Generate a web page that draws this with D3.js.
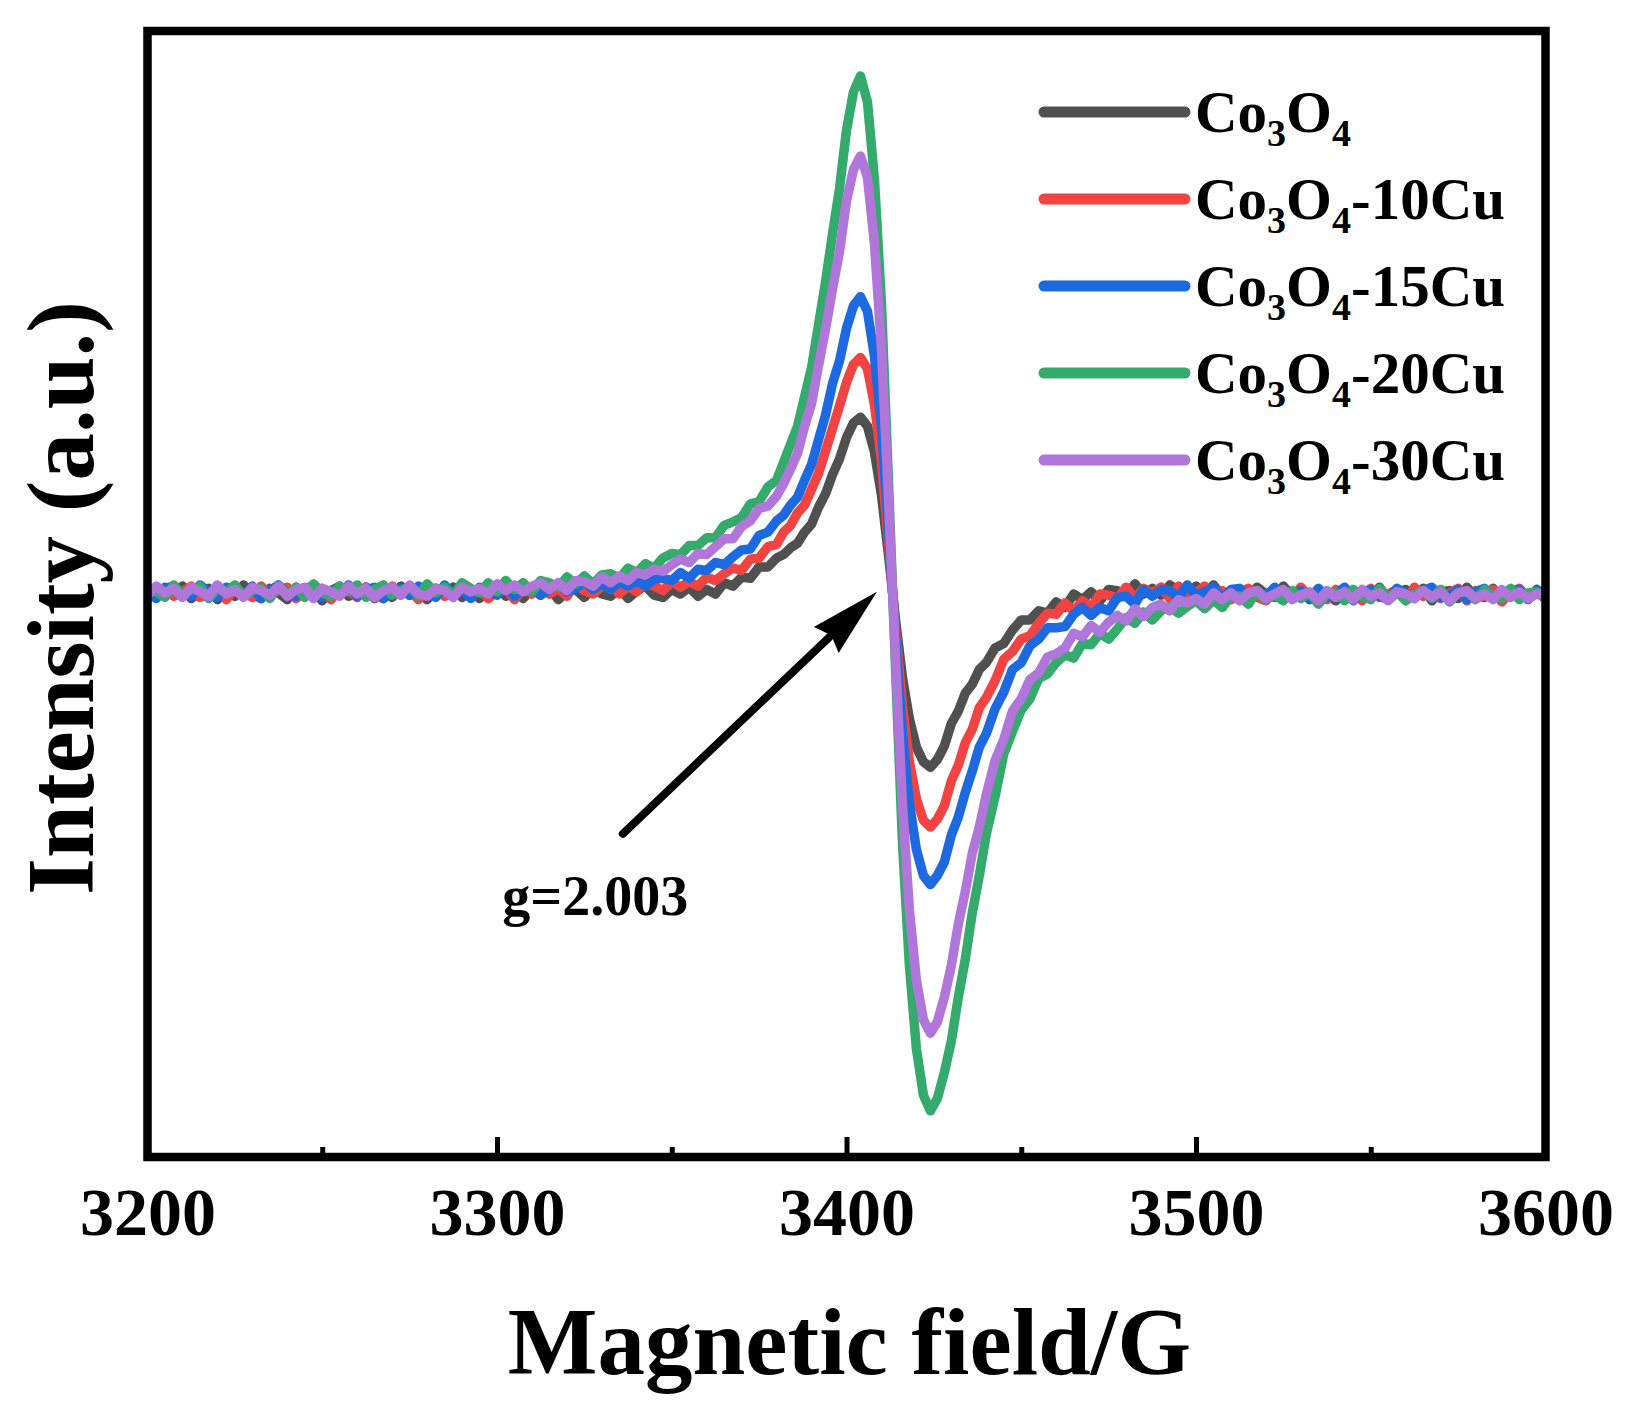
<!DOCTYPE html>
<html><head><meta charset="utf-8">
<script src="https://cdn.jsdelivr.net/npm/d3@7"></script>
<style>
body{margin:0;background:#fff}
svg text{font-family:"Liberation Serif","Times New Roman",serif;font-weight:bold;fill:#000}
</style>
</head><body>
<svg id="chart" width="1634" height="1407"></svg>
<script>
// Magnetic field (G)
const field = [
 3200,3202.5,3205,3207.5,3210,3212.5,3215,3217.5,3220,3222.5,3225,3227.5,3230,3232.5,3235,3237.5,3240,3242.5,3245,3247.5,
 3250,3252.5,3255,3257.5,3260,3262.5,3265,3267.5,3270,3272.5,3275,3277.5,3280,3282.5,3285,3287.5,3290,3292.5,3295,3297.5,
 3300,3302.5,3305,3307.5,3310,3312.5,3315,3317.5,3320,3322.5,3325,3327.5,3330,3332.5,3335,3337.5,3340,3342.5,3345,3347.5,
 3350,3352.5,3355,3357.5,3360,3362.5,3365,3367.5,3370,3372.5,3375,3377.5,3380,
 3382,3384,3386,3388,3390,3392,3394,3396,3398,3400,3402,3404,3406,3408,3410,3412,3414,3416,3418,3420,
 3422,3424,3426,3428,3430,3432,3434,3436,3438,3440,
 3442.5,3445,3447.5,3450,3452.5,3455,3457.5,3460,3462.5,3465,3467.5,3470,3472.5,3475,3477.5,3480,3482.5,3485,3487.5,3490,
 3492.5,3495,3497.5,3500,3502.5,3505,3507.5,3510,3512.5,3515,3517.5,3520,3522.5,3525,3527.5,3530,3532.5,3535,3537.5,3540,
 3542.5,3545,3547.5,3550,3552.5,3555,3557.5,3560,3562.5,3565,3567.5,3570,3572.5,3575,3577.5,3580,3582.5,3585,3587.5,3590,
 3592.5,3595,3597.5,3600
];
const seriesNames = ["Co3O4","Co3O4-10Cu","Co3O4-15Cu","Co3O4-20Cu","Co3O4-30Cu"];
const seriesColors = ["#505050","#f24343","#1d6ae0","#34aa6c","#b076da"];
// Intensity (a.u.)
const co3o4 = [
 0.04,-0.03,0.06,-0.01,0.07,-0.04,0.02,0.05,-0.05,0.03,-0.02,0.08,0.00,-0.04,0.05,0.01,-0.05,0.06,-0.01,0.04,
 -0.06,0.03,0.07,-0.02,0.00,0.06,-0.04,0.04,-0.03,0.07,-0.01,0.02,-0.05,0.05,0.00,0.06,-0.03,0.03,-0.04,0.04,
 0.07,-0.02,0.01,-0.04,0.05,-0.01,0.06,-0.05,0.02,0.04,-0.03,0.06,0.00,-0.02,0.05,-0.04,0.03,0.07,-0.01,-0.03,
 0.04,0.00,0.06,-0.02,0.04,0.00,0.10,0.07,0.15,0.14,0.24,0.24,0.32,
 0.35,0.41,0.45,0.55,0.62,0.77,0.89,1.06,1.20,1.39,1.52,1.57,1.49,1.26,0.88,0.35,-0.22,-0.74,-1.11,-1.36,
 -1.49,-1.54,-1.47,-1.35,-1.15,-1.04,-0.88,-0.80,-0.67,-0.61,
 -0.48,-0.44,-0.32,-0.23,-0.23,-0.15,-0.17,-0.07,-0.12,0.00,-0.05,0.02,-0.06,0.04,0.03,-0.02,0.09,0.00,0.05,-0.01,
 0.08,0.03,-0.03,0.07,0.00,0.08,-0.02,0.03,0.04,-0.04,0.06,0.00,-0.03,0.07,-0.02,0.03,-0.05,0.04,0.00,-0.06,
 0.05,-0.02,0.03,-0.04,0.06,-0.05,0.01,0.04,-0.03,0.05,-0.06,0.02,0.03,-0.04,0.06,-0.02,-0.03,0.05,-0.05,0.03,
 0.01,-0.04,0.04,-0.02
];
const co3o4_10Cu = [
 -0.04,0.03,0.05,-0.02,0.02,0.07,-0.03,0.00,0.06,-0.05,0.04,0.01,-0.03,0.07,-0.01,0.03,0.06,-0.04,0.02,-0.02,
 0.05,-0.05,0.04,0.03,-0.03,0.06,0.00,-0.04,0.07,-0.01,0.04,-0.05,0.03,0.05,-0.02,0.01,0.06,-0.03,0.04,-0.04,
 0.02,0.05,-0.05,0.05,0.00,0.08,0.00,0.05,-0.02,0.09,0.03,0.00,0.07,0.10,0.00,0.07,0.02,0.09,0.07,0.03,
 0.11,0.06,0.11,0.07,0.15,0.12,0.18,0.23,0.21,0.31,0.32,0.42,0.44,
 0.55,0.61,0.72,0.79,0.93,1.07,1.27,1.47,1.67,1.88,2.04,2.10,2.00,1.68,1.18,0.46,-0.29,-0.99,-1.49,-1.82,
 -2.01,-2.07,-2.00,-1.88,-1.66,-1.52,-1.32,-1.20,-1.01,-0.92,
 -0.77,-0.58,-0.51,-0.40,-0.37,-0.26,-0.17,-0.18,-0.08,-0.15,-0.06,-0.12,0.00,-0.01,-0.04,0.06,-0.04,0.05,0.01,0.06,
 -0.04,0.07,-0.01,0.01,0.07,-0.03,0.03,-0.05,0.02,0.05,-0.03,-0.06,0.04,0.01,-0.04,0.06,-0.02,0.03,-0.05,0.04,
 -0.01,0.02,-0.06,0.05,-0.03,0.00,0.04,-0.05,0.06,-0.02,0.03,-0.04,0.01,0.05,-0.06,0.03,-0.02,0.04,-0.07,0.02,
 0.05,-0.03,0.01,-0.04
];
const co3o4_15Cu = [
 0.03,-0.04,0.05,0.07,0.00,-0.02,0.08,0.02,-0.03,0.06,0.04,-0.01,0.07,-0.04,0.03,0.08,0.00,-0.02,0.05,0.07,
 -0.03,0.03,0.00,0.08,-0.02,0.04,0.06,-0.04,0.02,0.05,-0.01,0.07,0.01,-0.03,0.08,0.00,0.04,-0.04,0.06,0.03,
 -0.01,0.07,-0.02,0.05,0.06,-0.01,0.04,0.09,0.02,0.05,0.11,0.04,0.09,0.04,0.11,0.07,0.12,0.07,0.13,0.14,
 0.12,0.19,0.14,0.22,0.21,0.28,0.26,0.33,0.39,0.40,0.52,0.55,0.65,
 0.70,0.79,0.86,1.01,1.15,1.37,1.59,1.87,2.07,2.36,2.56,2.64,2.51,2.11,1.48,0.58,-0.36,-1.24,-1.86,-2.27,
 -2.50,-2.58,-2.50,-2.38,-2.14,-1.98,-1.76,-1.57,-1.36,-1.24,
 -1.02,-0.87,-0.67,-0.61,-0.46,-0.40,-0.30,-0.30,-0.29,-0.18,-0.12,-0.19,-0.12,-0.15,-0.03,-0.02,-0.09,0.04,-0.02,0.04,
 0.03,-0.03,0.08,-0.01,0.02,0.06,-0.04,0.04,0.05,-0.04,0.03,-0.02,0.06,-0.05,0.01,0.03,-0.04,0.05,-0.03,0.00,
 0.06,-0.06,0.02,0.04,-0.02,-0.05,0.05,0.01,-0.04,0.03,0.06,-0.03,-0.01,0.04,-0.05,0.02,0.05,-0.04,0.01,-0.02,
 0.04,-0.05,0.03,0.02
];
const co3o4_20Cu = [
 0.06,0.02,-0.03,0.08,-0.01,0.04,0.07,-0.04,0.05,0.01,0.08,-0.02,0.03,0.05,-0.04,0.07,0.00,0.06,-0.03,0.09,
 0.01,-0.02,0.07,0.02,0.08,-0.03,0.04,0.08,-0.01,0.03,0.07,-0.02,0.09,0.01,0.06,-0.01,0.10,0.05,0.01,0.10,
 0.02,0.12,0.04,0.10,0.02,0.12,0.10,0.06,0.15,0.09,0.16,0.09,0.17,0.18,0.14,0.23,0.19,0.27,0.23,0.32,
 0.36,0.35,0.43,0.43,0.50,0.50,0.61,0.64,0.68,0.80,0.82,0.95,1.01,
 1.17,1.33,1.49,1.75,2.01,2.39,2.77,3.20,3.60,4.12,4.46,4.60,4.37,3.68,2.58,1.01,-0.64,-2.20,-3.30,-4.04,
 -4.45,-4.59,-4.48,-4.25,-3.97,-3.58,-3.24,-2.83,-2.50,-2.13,
 -1.80,-1.42,-1.22,-1.03,-0.93,-0.75,-0.71,-0.61,-0.54,-0.57,-0.44,-0.45,-0.35,-0.40,-0.31,-0.21,-0.26,-0.16,-0.23,-0.15,
 -0.11,-0.17,-0.11,-0.06,-0.13,-0.05,-0.12,-0.02,-0.02,-0.09,0.03,-0.05,-0.01,-0.06,0.03,-0.04,0.01,-0.09,0.00,0.01,
 -0.06,0.04,-0.02,-0.05,0.05,-0.03,0.02,-0.06,0.00,0.03,-0.04,0.04,-0.07,0.01,0.02,-0.05,0.04,-0.02,-0.04,0.05,
 -0.05,0.01,0.02,-0.04
];
const co3o4_30Cu = [
 -0.01,0.07,0.01,0.05,-0.03,0.06,0.02,-0.02,0.08,0.00,0.04,-0.03,0.06,0.03,-0.01,0.07,-0.02,0.04,0.06,-0.04,
 0.05,0.02,-0.02,0.07,0.00,0.05,-0.03,0.03,0.06,-0.01,0.08,0.00,-0.02,0.05,0.03,-0.03,0.06,0.02,0.05,0.00,
 0.09,0.03,0.08,0.02,0.07,0.10,0.04,0.10,0.03,0.12,0.11,0.07,0.15,0.10,0.16,0.12,0.19,0.17,0.22,0.20,
 0.26,0.31,0.28,0.36,0.35,0.42,0.49,0.49,0.60,0.65,0.76,0.78,0.87,
 0.98,1.11,1.25,1.49,1.69,2.03,2.35,2.71,3.04,3.49,3.77,3.89,3.70,3.11,2.18,0.86,-0.55,-1.87,-2.81,-3.43,
 -3.78,-3.90,-3.80,-3.58,-3.30,-2.93,-2.64,-2.30,-2.07,-1.78,
 -1.48,-1.29,-1.04,-0.93,-0.76,-0.70,-0.56,-0.53,-0.48,-0.35,-0.38,-0.28,-0.34,-0.25,-0.19,-0.24,-0.13,-0.20,-0.12,-0.09,
 -0.15,-0.05,-0.08,-0.04,-0.09,0.01,-0.05,0.01,-0.06,0.01,0.03,-0.04,0.00,0.04,-0.05,-0.01,0.02,-0.06,0.03,-0.03,
 0.02,-0.05,0.04,-0.02,0.01,-0.06,0.02,0.00,-0.04,0.03,-0.03,0.02,-0.06,0.01,0.03,-0.04,0.00,-0.05,0.04,-0.03,
 0.02,-0.04,0.00,0.01
];
const seriesValues = [co3o4, co3o4_10Cu, co3o4_15Cu, co3o4_20Cu, co3o4_30Cu];
const majorTicks = [3200,3300,3400,3500,3600];
const minorTicks = [3250,3350,3450,3550];
const xTitle = "Magnetic field/G";
const yTitle = "Intensity (a.u.)";
const annotText = "g=2.003";
const annotLabelAt = [3301.5, -2.85];
const arrowFrom = [3336, -2.13];
const arrowTo = [3408.7, 0.02];

const svg = d3.select("#chart");
const L = 147.5, R = 1545.5, T = 31, B = 1157;
const x = d3.scaleLinear().domain([3200,3600]).range([L,R]);
const y = d3.scaleLinear().domain([-5,5]).range([B,T]);

svg.append("defs").append("clipPath").attr("id","clip")
  .append("rect").attr("x",L).attr("y",T).attr("width",R-L).attr("height",B-T);

const line = d3.line()
  .defined((d,i)=>field[i]!=null && d!=null)
  .x((d,i)=>x(field[i])).y(d=>y(d));
const gLines = svg.append("g").attr("clip-path","url(#clip)");
seriesValues.forEach((vals,k)=>{
  gLines.append("path").datum(vals).attr("d",line)
    .attr("fill","none").attr("stroke",seriesColors[k]).attr("stroke-width",9.5)
    .attr("stroke-linejoin","round").attr("stroke-linecap","round");
});

// axes
const axMajor = svg.append("g").attr("transform",`translate(0,${B})`)
  .call(d3.axisBottom(x).tickValues(majorTicks).tickFormat(d3.format("d")).tickSize(-20).tickPadding(30));
axMajor.select(".domain").remove();
axMajor.selectAll("line").attr("stroke","#000").attr("stroke-width",5);
axMajor.attr("font-family",null).attr("font-size",null);
axMajor.selectAll("text").attr("font-size",68);
const axMinor = svg.append("g").attr("transform",`translate(0,${B})`)
  .call(d3.axisBottom(x).tickValues(minorTicks).tickFormat("").tickSize(-10));
axMinor.select(".domain").remove();
axMinor.selectAll("line").attr("stroke","#000").attr("stroke-width",5);

// frame
svg.append("rect").attr("x",L).attr("y",T).attr("width",R-L).attr("height",B-T)
  .attr("fill","none").attr("stroke","#000").attr("stroke-width",8.5);

// titles
svg.append("text").attr("x",(L+R)/2+3).attr("y",1374).attr("text-anchor","middle")
  .attr("font-size",95).text(xTitle);
svg.append("text").attr("transform","translate(93,598) rotate(-90)").attr("text-anchor","middle")
  .attr("font-size",95).text(yTitle);

// legend
const leg = svg.append("g");
seriesNames.forEach((name,i)=>{
  const ry = 112 + i*87;
  leg.append("line").attr("x1",1044).attr("x2",1185).attr("y1",ry).attr("y2",ry)
    .attr("stroke",seriesColors[i]).attr("stroke-width",11).attr("stroke-linecap","round");
  const t = leg.append("text").attr("x",1195).attr("y",ry+20).attr("font-size",59);
  const suffix = name.slice(5);
  t.append("tspan").text("Co");
  t.append("tspan").attr("font-size",38).attr("dy",14).text("3");
  t.append("tspan").attr("dy",-14).text("O");
  t.append("tspan").attr("font-size",38).attr("dy",14).text("4");
  if (suffix) t.append("tspan").attr("dy",-14).text(suffix);
});

// annotation arrow
const x0 = x(arrowFrom[0]), y0 = y(arrowFrom[1]), x1 = x(arrowTo[0]), y1 = y(arrowTo[1]);
const len = Math.hypot(x1-x0,y1-y0), ux=(x1-x0)/len, uy=(y1-y0)/len, nx=-uy, ny=ux;
const hl = 70, hw = 18;
const bx = x1-ux*hl, by = y1-uy*hl;
svg.append("line").attr("x1",x0).attr("y1",y0).attr("x2",bx+ux*4).attr("y2",by+uy*4)
  .attr("stroke","#000").attr("stroke-width",8).attr("stroke-linecap","round");
svg.append("path").attr("d",`M${x1},${y1}L${bx+nx*hw},${by+ny*hw}L${bx+ux*7},${by+uy*7}L${bx-nx*hw},${by-ny*hw}Z`)
  .attr("fill","#000");
svg.append("text").attr("x",x(annotLabelAt[0])).attr("y",y(annotLabelAt[1])).attr("font-size",56).text(annotText);
</script>
</body></html>
